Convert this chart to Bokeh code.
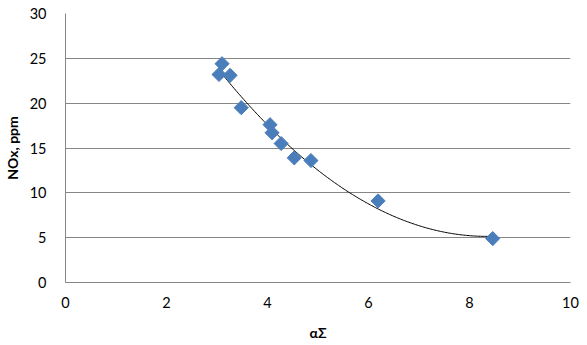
import numpy as np
from bokeh.plotting import figure
from bokeh.models import Range1d, FixedTicker
from bokeh.embed import file_html
from bokeh.resources import INLINE

# data
alpha = [3.10, 3.04, 3.26, 3.48, 4.05, 4.09, 4.27, 4.53, 4.86, 6.19, 8.46]
nox = [24.4, 23.2, 23.1, 19.5, 17.6, 16.7, 15.5, 13.9, 13.6, 9.1, 4.9]
x_ticks = [0, 2, 4, 6, 8, 10]
y_ticks = [0, 5, 10, 15, 20, 25, 30]

# quadratic trend line fitted to the data
coef = np.polyfit(alpha, nox, 2)
xs = np.linspace(min(alpha), max(alpha), 200)
ys = np.polyval(coef, xs)

p = figure(width=587, height=345, output_backend="svg", toolbar_location=None,
           x_range=Range1d(0, 10), y_range=Range1d(0, 30),
           min_border_left=64, min_border_right=17, min_border_top=13, min_border_bottom=63)
p.outline_line_color = None
p.background_fill_color = "white"

p.line(xs, ys, line_color="black", line_width=1)
p.scatter(alpha, nox, marker="square", size=10, angle=np.pi / 4,
          fill_color="#4A7EBB", line_color="#4A7EBB")

font = "Lato"
for ax in (p.xaxis[0], p.yaxis[0]):
    ax.major_tick_line_color = None
    ax.minor_tick_line_color = None
    ax.axis_line_color = "#868686"
    ax.major_label_text_font = font
    ax.major_label_text_font_size = "14.5px"
    ax.major_label_text_color = "#000000"
    ax.axis_label_text_font = font
    ax.axis_label_text_font_size = "14px"
    ax.axis_label_text_font_style = "bold"
    ax.axis_label_text_color = "#000000"

p.xaxis.ticker = FixedTicker(ticks=x_ticks)
p.yaxis.ticker = FixedTicker(ticks=y_ticks)
p.xaxis.axis_label = "αΣ"
p.yaxis.axis_label = "NOx, ppm"
p.xaxis.major_label_standoff = 8
p.yaxis.major_label_standoff = 13
p.xaxis.axis_label_standoff = 13
p.yaxis.axis_label_standoff = 6

p.xgrid.grid_line_color = None
p.ygrid.grid_line_color = "#868686"
p.ygrid.grid_line_width = 1

open("out.html", "w").write(file_html(p, INLINE))
